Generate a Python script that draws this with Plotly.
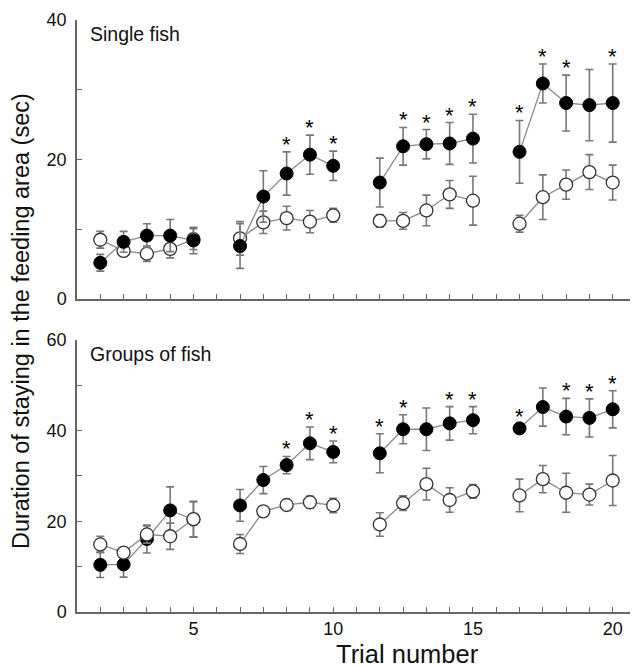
import plotly.graph_objects as go
from plotly.subplots import make_subplots

# trials are run in blocks of five, drawn with a one-slot gap between blocks
trials = list(range(1, 21))
block_size = 5
label_trials = [5, 10, 15, 20]

# single fish: filled = trained, open = control
single_filled = [5.2, 8.2, 9.1, 9.1, 8.4, 7.6, 14.7, 18.0, 20.7, 19.1,
                 16.7, 21.9, 22.2, 22.3, 23.0, 21.1, 30.9, 28.1, 27.8, 28.1]
single_filled_err = [1.2, 1.5, 1.7, 2.3, 1.9, 3.2, 3.7, 3.1, 2.8, 2.1,
                     3.5, 2.7, 2.1, 3.0, 3.5, 4.5, 2.8, 4.0, 5.1, 5.6]
single_open = [8.5, 6.9, 6.5, 7.2, 8.6, 8.7, 11.0, 11.6, 11.1, 12.0,
               11.2, 11.2, 12.7, 15.0, 14.1, 10.8, 14.6, 16.4, 18.2, 16.7]
single_open_err = [1.2, 0.8, 1.1, 1.3, 1.5, 2.4, 1.6, 1.7, 1.6, 1.0,
                   0.9, 1.2, 2.2, 2.0, 3.5, 1.2, 3.2, 2.1, 2.5, 2.5]
single_sig = [8, 9, 10, 12, 13, 14, 15, 16, 17, 18, 20]

# groups of fish
group_filled = [10.4, 10.5, 16.1, 22.4, 20.4, 23.5, 29.1, 32.4, 37.2, 35.3,
                35.0, 40.3, 40.3, 41.6, 42.3, 40.5, 45.2, 43.1, 42.8, 44.7]
group_filled_err = [2.8, 2.8, 3.1, 5.2, 3.9, 3.5, 3.0, 1.9, 3.6, 2.4,
                    4.3, 3.2, 4.7, 3.7, 3.0, 1.0, 4.2, 4.0, 4.2, 4.1]
group_open = [14.9, 13.1, 17.1, 16.7, 20.5, 15.0, 22.2, 23.6, 24.2, 23.5,
              19.3, 24.0, 28.2, 24.7, 26.6, 25.7, 29.3, 26.3, 25.9, 29.0]
group_open_err = [1.8, 1.0, 1.9, 2.9, 3.9, 2.1, 1.0, 0.8, 1.3, 1.6,
                  2.6, 1.6, 3.5, 2.7, 1.5, 3.6, 3.0, 4.3, 2.3, 5.5]
group_sig = [8, 9, 10, 11, 12, 14, 15, 16, 18, 19, 20]

panel_titles = ["Single fish", "Groups of fish"]
y_ranges = [[0, 40], [0, 60]]
y_major = [[0, 20, 40], [0, 20, 40, 60]]

FONT = "Liberation Sans, Arial, sans-serif"
AXIS_GREY = "#666666"
LINE_GREY = "#8a8a8a"


def axis_pos(t):
    return t + (t - 1) // block_size


def with_gaps(values):
    out = []
    for t, v in zip(trials, values):
        if t > 1 and (t - 1) % block_size == 0:
            out.append(None)
        out.append(v)
    return out


x_pos = with_gaps([axis_pos(t) for t in trials])

fig = make_subplots(rows=2, cols=1)

panels = [
    (single_open, single_open_err, single_filled, single_filled_err, single_sig),
    (group_open, group_open_err, group_filled, group_filled_err, group_sig),
]

for row, (o, oe, f, fe, sig) in enumerate(panels, start=1):
    open_tr = go.Scatter(
        x=x_pos, y=with_gaps(o), mode="lines+markers", connectgaps=False,
        error_y=dict(type="data", array=with_gaps(oe), color="#777777",
                     thickness=1.6, width=4),
        line=dict(color=LINE_GREY, width=1.3),
        marker=dict(symbol="circle", size=13, color="white",
                    line=dict(color="#333333", width=1.3)),
        showlegend=False)
    filled_tr = go.Scatter(
        x=x_pos, y=with_gaps(f), mode="lines+markers", connectgaps=False,
        error_y=dict(type="data", array=with_gaps(fe), color="#777777",
                     thickness=1.6, width=4),
        line=dict(color=LINE_GREY, width=1.3),
        marker=dict(symbol="circle", size=13, color="black",
                    line=dict(color="black", width=1)),
        showlegend=False)
    # top panel: filled on top, bottom panel: open on top
    order = [open_tr, filled_tr] if row == 1 else [filled_tr, open_tr]
    for tr in order:
        fig.add_trace(tr, row=row, col=1)

    for t in sig:
        i = t - 1
        top = max(f[i] + fe[i], o[i] + oe[i])
        fig.add_annotation(x=axis_pos(t), y=top, text="*", showarrow=False,
                           xanchor="center", yanchor="bottom", yshift=-7,
                           font=dict(family=FONT, size=22, color="black"),
                           row=row, col=1)

    fig.add_annotation(x=0.02, y=0.995, xref="x%s domain" % ("" if row == 1 else row),
                       yref="y%s domain" % ("" if row == 1 else row),
                       text=panel_titles[row - 1], showarrow=False,
                       xanchor="left", yanchor="top",
                       font=dict(family=FONT, size=19.5, color="#111111"))

    yr = y_ranges[row - 1]
    yvals = list(range(yr[0], yr[1] + 1, 10))
    fig.update_yaxes(range=yr, tickvals=yvals,
                     ticktext=[str(v) if v in y_major[row - 1] else "" for v in yvals],
                     ticks="inside", ticklen=5, tickwidth=1.3, tickcolor=AXIS_GREY,
                     showline=True, linecolor=AXIS_GREY, linewidth=1.5,
                     showgrid=False, zeroline=False, ticklabelstandoff=5,
                     tickfont=dict(family=FONT, size=18, color="#111111"),
                     row=row, col=1)

    xvals = list(range(0, 25))
    label_pos = {axis_pos(t): str(t) for t in label_trials}
    fig.update_xaxes(range=[0, 24], tickvals=xvals,
                     ticktext=[label_pos.get(v, "") for v in xvals],
                     showticklabels=(row == 2),
                     ticks="inside", ticklen=5, tickwidth=1.3, tickcolor=AXIS_GREY,
                     showline=True, linecolor=AXIS_GREY, linewidth=1.5,
                     showgrid=False, zeroline=False, ticklabelstandoff=0,
                     tickfont=dict(family=FONT, size=18, color="#111111"),
                     row=row, col=1)

fig.update_layout(yaxis=dict(domain=[0.5286, 1.0]), yaxis2=dict(domain=[0.0, 0.4596]))

fig.add_annotation(x=0.592, y=-0.071, xref="paper", yref="paper", yanchor="middle",
                   text="Trial number", showarrow=False,
                   font=dict(family=FONT, size=25.5, color="#111111"))
fig.add_annotation(x=-0.1, y=0.4916, xref="paper", yref="paper", textangle=-90,
                   xanchor="center", yanchor="middle",
                   text="Duration of staying in the feeding area (sec)", showarrow=False,
                   font=dict(family=FONT, size=23.5, color="#111111"))

# the page body adds an 8px offset, so the figure is sized to sit inside the window
fig.update_layout(
    width=630, height=657,
    margin=dict(l=69, r=2, t=10, b=53),
    plot_bgcolor="white", paper_bgcolor="white",
)
fig.write_html("out.html")
